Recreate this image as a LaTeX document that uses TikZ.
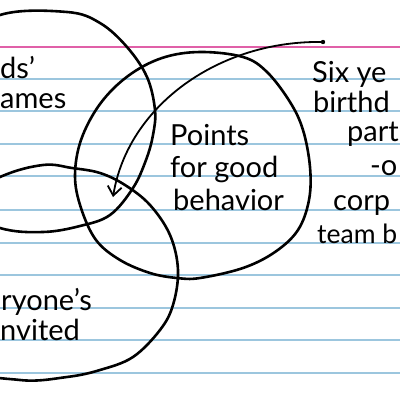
\documentclass[tikz,border=0pt]{standalone}
\usepackage{fontspec}
\setmainfont{Lato}
\usetikzlibrary{arrows.meta}
\definecolor{ruleblue}{HTML}{9CC6DE}
\definecolor{rulepink}{HTML}{E060A8}
\begin{document}
\begin{tikzpicture}[x=1pt,y=-1pt,
  ring/.style={line width=2.6pt, line join=round, black},
  hand/.style={font=\fontsize{29}{33}\selectfont, anchor=base west, inner sep=0pt, text=black},
  ruleline/.style={ruleblue, line width=1.2pt}]
\useasboundingbox (0,0) rectangle (400,400);
\fill[white] (0,0) rectangle (400,400);
% ruled card lines
\foreach \yy in {79,111,144,176,210,243,275,308,340,373}
  \draw[ruleline] (0,\yy) -- (400,\yy);
\draw[rulepink, line width=1.3pt] (0,47) -- (400,47);
\begin{scope}
\clip (0,0) rectangle (400,400);
% circle 1: Kids' games
\draw[ring] plot[smooth cycle, tension=0.6] coordinates {
  (-75,120) (-55,50) (0,15) (67,12) (100,23) (127,47) (147,77) (155,110)
  (153,135) (146,160) (133,188) (110,215) (80,226) (43,232) (0,228) (-50,205)};
% circle 2: Points for good behavior
\draw[ring] plot[smooth cycle, tension=0.6] coordinates {
  (200,52) (243,57) (267,72) (290,102) (303,130) (310,167) (309,200)
  (298,230) (275,252) (243,268) (200,278) (177,278) (150,273) (120,260)
  (96,240) (81,208) (75,176) (81,140) (100,104) (128,76) (162,58)};
% circle 3: Everyone's invited
\draw[ring] plot[smooth cycle, tension=0.6] coordinates {
  (-60,210) (0,177) (43,165) (72,168) (100,173) (125,185) (150,205)
  (170,235) (178,270) (173,305) (160,330) (133,357) (100,370) (67,377)
  (20,380) (-40,365) (-90,300)};
\end{scope}
% arrow
\coordinate (astart) at (323,42);
\coordinate (aend) at (113,197);
\draw[line width=1.8pt, -{Straight Barb[length=9pt, width=14pt, line width=1.8pt]}]
  (astart) .. controls (220,40) and (128,105) .. (aend);
\fill (astart) circle (2.2pt);
% texts
\node[hand] (k1) at (0,78) {ds'};
\node[hand] (k2) at (0,108) {ames};
\node[hand] (p1) at (170,145) {Points};
\node[hand] (p2) at (170,177) {for good};
\node[hand] (p3) at (173,210) {behavior};
\node[hand] (e1) at (1,310) {ryone's};
\node[hand] (e2) at (0,340) {nvited};
\node[hand] (s1) at (312,82) {Six ye};
\node[hand] (s2) at (313,112) {birthd};
\node[hand] (s3) at (347,141) {part};
\node[hand] (s4) at (370,175) {-o};
\node[hand] (s5) at (333,210) {corp};
\node[hand, font=\fontsize{26.5}{30}\selectfont] (s6) at (317,243) {team b};
\end{tikzpicture}
\end{document}
